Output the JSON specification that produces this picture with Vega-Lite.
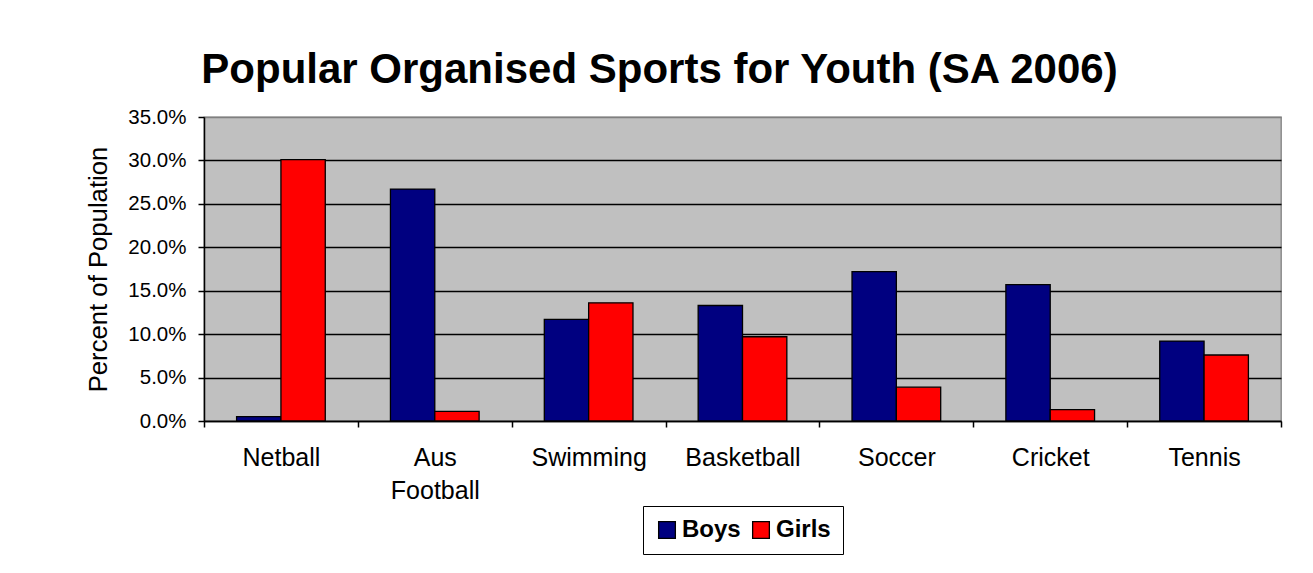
{
  "$schema": "https://vega.github.io/schema/vega-lite/v6.json",
  "width": 1077,
  "height": 304,
  "autosize": {"type": "none"},
  "padding": {"left": 204, "top": 117, "right": 32, "bottom": 152},
  "background": "white",
  "title": {
    "text": "Popular Organised Sports for Youth (SA 2006)",
    "font": "Liberation Sans",
    "fontSize": 42,
    "fontWeight": "bold",
    "color": "black",
    "anchor": "middle",
    "baseline": "alphabetic",
    "offset": -18,
    "dx": -83
  },
  "data": {
    "values": [
      {"sport": "Netball", "gender": "Boys", "pct": 0.005},
      {"sport": "Netball", "gender": "Girls", "pct": 0.301},
      {"sport": "Aus Football", "gender": "Boys", "pct": 0.267},
      {"sport": "Aus Football", "gender": "Girls", "pct": 0.011},
      {"sport": "Swimming", "gender": "Boys", "pct": 0.117},
      {"sport": "Swimming", "gender": "Girls", "pct": 0.136},
      {"sport": "Basketball", "gender": "Boys", "pct": 0.133},
      {"sport": "Basketball", "gender": "Girls", "pct": 0.097},
      {"sport": "Soccer", "gender": "Boys", "pct": 0.172},
      {"sport": "Soccer", "gender": "Girls", "pct": 0.039},
      {"sport": "Cricket", "gender": "Boys", "pct": 0.157},
      {"sport": "Cricket", "gender": "Girls", "pct": 0.013},
      {"sport": "Tennis", "gender": "Boys", "pct": 0.092},
      {"sport": "Tennis", "gender": "Girls", "pct": 0.076}
    ]
  },
  "mark": {"type": "bar", "stroke": "black", "strokeWidth": 1.3},
  "encoding": {
    "x": {
      "field": "sport",
      "type": "nominal",
      "sort": ["Netball", "Aus Football", "Swimming", "Basketball", "Soccer", "Cricket", "Tennis"],
      "scale": {"paddingInner": 0, "paddingOuter": 0},
      "axis": {
        "title": null,
        "labelAngle": 0,
        "labelFont": "Liberation Sans",
        "labelFontSize": 25,
        "labelColor": "black",
        "labelPadding": 18,
        "labelLineHeight": 33,
        "labelBaseline": "top",
        "labelExpr": "datum.value == 'Aus Football' ? ['Aus', 'Football'] : datum.value",
        "tickBand": "extent",
        "tickSize": 6,
        "tickColor": "black",
        "tickWidth": 1.5,
        "domainColor": "black",
        "domainWidth": 1.5,
        "grid": false
      }
    },
    "xOffset": {
      "field": "gender",
      "type": "nominal",
      "scale": {"paddingInner": 0, "paddingOuter": 0.735}
    },
    "y": {
      "field": "pct",
      "type": "quantitative",
      "scale": {"domain": [0, 0.35], "nice": false},
      "axis": {
        "title": "Percent of Population",
        "titleFont": "Liberation Sans",
        "titleFontSize": 25.7,
        "titleFontWeight": "normal",
        "titleColor": "black",
        "titlePadding": 16,
        "values": [0, 0.05, 0.1, 0.15, 0.2, 0.25, 0.3, 0.35],
        "format": ".1%",
        "labelFont": "Liberation Sans",
        "labelFontSize": 20.5,
        "labelColor": "black",
        "labelPadding": 12,
        "tickSize": 6,
        "tickColor": "black",
        "tickWidth": 1.5,
        "domainColor": "black",
        "domainWidth": 1.5,
        "grid": true,
        "gridColor": {"condition": {"test": "datum.value >= 0.35", "value": "#808080"}, "value": "black"},
        "gridWidth": 1.4,
        "gridOpacity": 1
      }
    },
    "color": {
      "field": "gender",
      "type": "nominal",
      "scale": {"domain": ["Boys", "Girls"], "range": ["#000080", "#FF0000"]},
      "legend": {
        "title": null,
        "orient": "bottom",
        "direction": "horizontal",
        "symbolType": "square",
        "symbolSize": 280,
        "symbolStrokeColor": "black",
        "symbolStrokeWidth": 1.3,
        "symbolOpacity": 1,
        "labelFont": "Liberation Sans",
        "labelFontSize": 24,
        "labelFontWeight": "bold",
        "labelColor": "black",
        "labelOffset": 3,
        "columnPadding": 8,
        "padding": 12,
        "strokeColor": "black",
        "offset": 3
      }
    }
  },
  "config": {
    "view": {"fill": "#C0C0C0", "stroke": "#808080", "strokeWidth": 1.3},
    "font": "Liberation Sans",
    "legend": {
      "layout": {"bottom": {"anchor": "middle", "direction": "horizontal", "bounds": "flush"}}
    }
  }
}
